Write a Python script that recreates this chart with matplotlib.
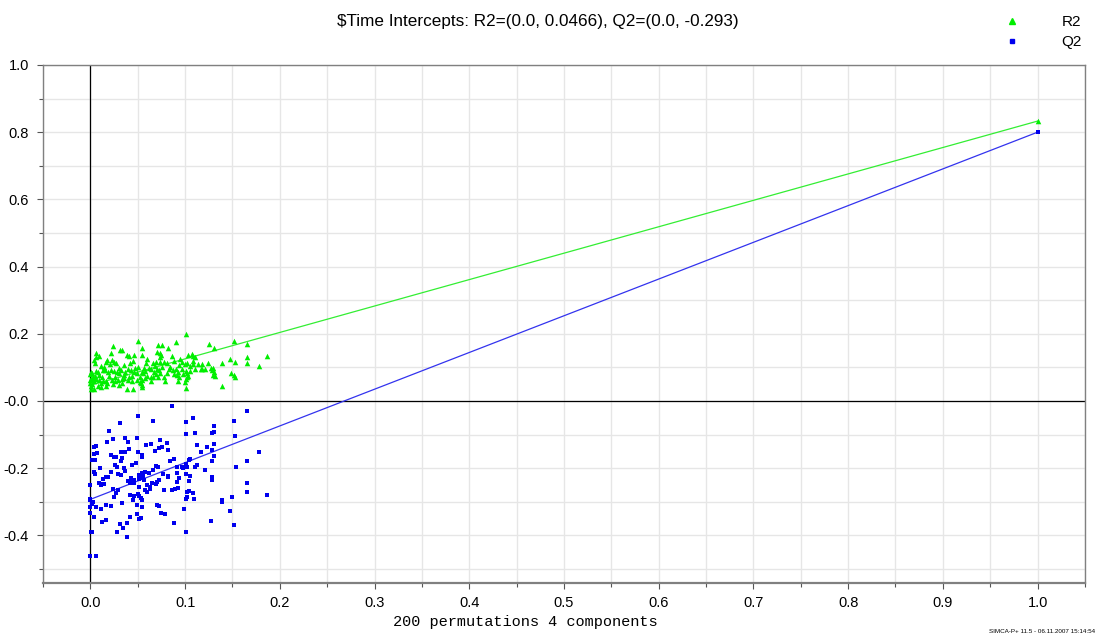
import matplotlib
matplotlib.use("Agg")
import matplotlib.pyplot as plt
from matplotlib.ticker import MultipleLocator, FixedLocator, FixedFormatter
from matplotlib.lines import Line2D

# permutation results: x = correlation of permuted y with original y
r2_x = [0.101, 0.050, 0.024, 0.071, 0.076, 0.090, 0.125, 0.152, 0.165, 0.022,
        0.031, 0.033, 0.054, 0.082, 0.039, 0.041, 0.046, 0.055, 0.070, 0.073,
        0.075, 0.086, 0.103, 0.107, 0.108, 0.110, 0.131, 0.147, 0.153, 0.165,
        0.165, 0.178, 0.187, 0.006, 0.006, 0.009, 0.004, 0.005, 0.016, 0.018,
        0.023, 0.025, 0.027, 0.011, 0.035, 0.042, 0.050, 0.059, 0.066, 0.069,
        0.073, 0.074, 0.078, 0.068, 0.081, 0.084, 0.097, 0.094, 0.100, 0.102,
        0.105, 0.108, 0.114, 0.118, 0.124, 0.139, 0.127, 0.129, 0.131, 0.128,
        0.129, 0.132, 0.001, 0.002, 0.000, 0.003, 0.006, 0.009, 0.013, 0.015,
        0.019, 0.022, 0.025, 0.028, 0.030, 0.032, 0.037, 0.040, 0.043, 0.046,
        0.049, 0.054, 0.056, 0.058, 0.062, 0.064, 0.067, 0.070, 0.072, 0.074,
        0.081, 0.087, 0.090, 0.091, 0.093, 0.098, 0.101, 0.102, 0.103, 0.117,
        0.121, 0.149, 0.152, 0.153, 0.000, 0.004, 0.006, 0.009, 0.011, 0.013,
        0.017, 0.023, 0.026, 0.029, 0.033, 0.035, 0.040, 0.041, 0.044, 0.049,
        0.052, 0.055, 0.058, 0.064, 0.066, 0.071, 0.079, 0.092, 0.100, 0.101,
        0.102, 0.139, 0.000, 0.001, 0.004, 0.008, 0.011, 0.016, 0.018, 0.024,
        0.030, 0.033, 0.039, 0.045, 0.053, 0.055, 0.054, 0.101, 0.001, 0.003,
        0.008, 0.012, 0.020, 0.026, 0.030, 0.035, 0.044, 0.047, 0.052, 0.057,
        0.060, 0.064, 0.069, 0.076, 0.078, 0.083, 0.088, 0.094, 0.097, 0.105,
        0.108, 0.110, 0.014, 0.021, 0.045, 0.060, 0.088, 0.095, 0.118, 0.001,
        0.002, 0.005, 1.000]
r2_y = [0.199, 0.177, 0.164, 0.167, 0.167, 0.174, 0.170, 0.179, 0.170, 0.144,
        0.152, 0.152, 0.157, 0.157, 0.137, 0.134, 0.136, 0.136, 0.145, 0.142,
        0.137, 0.134, 0.138, 0.140, 0.134, 0.132, 0.159, 0.124, 0.115, 0.130,
        0.114, 0.104, 0.134, 0.142, 0.130, 0.134, 0.122, 0.112, 0.115, 0.122,
        0.122, 0.117, 0.112, 0.105, 0.107, 0.112, 0.102, 0.114, 0.112, 0.115,
        0.117, 0.130, 0.115, 0.104, 0.112, 0.102, 0.115, 0.108, 0.109, 0.112,
        0.105, 0.110, 0.110, 0.096, 0.114, 0.112, 0.099, 0.097, 0.085, 0.092,
        0.078, 0.074, 0.087, 0.082, 0.079, 0.072, 0.090, 0.077, 0.092, 0.092,
        0.087, 0.092, 0.090, 0.085, 0.082, 0.092, 0.087, 0.094, 0.092, 0.085,
        0.082, 0.085, 0.082, 0.089, 0.099, 0.094, 0.087, 0.094, 0.092, 0.082,
        0.084, 0.092, 0.094, 0.077, 0.085, 0.080, 0.090, 0.082, 0.074, 0.094,
        0.096, 0.082, 0.077, 0.070, 0.062, 0.058, 0.064, 0.061, 0.053, 0.058,
        0.060, 0.062, 0.058, 0.061, 0.064, 0.069, 0.062, 0.072, 0.060, 0.061,
        0.055, 0.062, 0.067, 0.059, 0.070, 0.072, 0.058, 0.060, 0.055, 0.064,
        0.072, 0.043, 0.053, 0.043, 0.036, 0.045, 0.041, 0.043, 0.053, 0.050,
        0.048, 0.053, 0.035, 0.036, 0.053, 0.048, 0.040, 0.038, 0.035, 0.068,
        0.085, 0.070, 0.075, 0.072, 0.098, 0.078, 0.075, 0.097, 0.070, 0.098,
        0.075, 0.070, 0.080, 0.100, 0.072, 0.096, 0.080, 0.070, 0.095, 0.088,
        0.120, 0.095, 0.100, 0.110, 0.118, 0.125, 0.120, 0.124, 0.110, 0.065,
        0.050, 0.075, 0.833]

q2_x = [0.086, 0.165, 0.050, 0.066, 0.101, 0.108, 0.152, 0.031, 0.020, 0.101,
        0.110, 0.130, 0.131, 0.128, 0.153, 0.018, 0.024, 0.037, 0.040, 0.049,
        0.064, 0.059, 0.073, 0.081, 0.076, 0.072, 0.068, 0.006, 0.004, 0.113,
        0.123, 0.128, 0.131, 0.117, 0.178, 0.041, 0.032, 0.037, 0.050, 0.055,
        0.055, 0.022, 0.025, 0.027, 0.007, 0.004, 0.082, 0.033, 0.032, 0.088,
        0.105, 0.104, 0.128, 0.130, 0.002, 0.005, 0.154, 0.165, 0.026, 0.028,
        0.048, 0.069, 0.071, 0.091, 0.097, 0.101, 0.102, 0.110, 0.121, 0.004,
        0.005, 0.022, 0.029, 0.032, 0.037, 0.043, 0.046, 0.051, 0.054, 0.056,
        0.058, 0.062, 0.051, 0.054, 0.056, 0.077, 0.082, 0.082, 0.091, 0.098,
        0.101, 0.105, 0.113, 0.128, 0.128, 0.016, 0.013, 0.009, 0.011, 0.011,
        0.014, 0.000, 0.040, 0.042, 0.044, 0.046, 0.051, 0.057, 0.065, 0.069,
        0.072, 0.063, 0.063, 0.058, 0.060, 0.086, 0.089, 0.092, 0.091, 0.104,
        0.165, 0.024, 0.029, 0.025, 0.027, 0.042, 0.045, 0.046, 0.050, 0.051,
        0.053, 0.054, 0.049, 0.055, 0.070, 0.072, 0.102, 0.104, 0.108, 0.102,
        0.101, 0.109, 0.139, 0.139, 0.150, 0.165, 0.187, 0.000, 0.000, 0.003,
        0.002, 0.033, 0.017, 0.022, 0.000, 0.006, 0.011, 0.099, 0.147, 0.000,
        0.004, 0.042, 0.049, 0.051, 0.053, 0.075, 0.079, 0.088, 0.127, 0.152,
        0.016, 0.012, 0.031, 0.039, 0.034, 0.028, 0.001, 0.002, 0.101, 0.039,
        0.000, 0.006, 0.066, 0.084, 0.035, 0.019, 0.060, 0.078, 0.044, 0.070,
        0.094, 0.010, 1.000]
q2_y = [-0.014, -0.030, -0.045, -0.061, -0.063, -0.052, -0.061, -0.066, -0.090, -0.097,
        -0.095, -0.075, -0.092, -0.095, -0.105, -0.121, -0.114, -0.111, -0.121, -0.111,
        -0.127, -0.132, -0.117, -0.124, -0.138, -0.141, -0.148, -0.133, -0.137, -0.131,
        -0.137, -0.145, -0.129, -0.151, -0.151, -0.143, -0.151, -0.151, -0.153, -0.161,
        -0.166, -0.161, -0.168, -0.168, -0.155, -0.159, -0.147, -0.171, -0.179, -0.172,
        -0.174, -0.177, -0.178, -0.164, -0.177, -0.177, -0.196, -0.178, -0.190, -0.198,
        -0.185, -0.195, -0.196, -0.196, -0.198, -0.187, -0.196, -0.196, -0.206, -0.212,
        -0.217, -0.212, -0.216, -0.220, -0.210, -0.230, -0.235, -0.220, -0.215, -0.216,
        -0.212, -0.215, -0.233, -0.225, -0.230, -0.216, -0.222, -0.227, -0.214, -0.200,
        -0.216, -0.222, -0.192, -0.227, -0.234, -0.226, -0.232, -0.243, -0.246, -0.251,
        -0.248, -0.251, -0.238, -0.243, -0.238, -0.243, -0.256, -0.236, -0.243, -0.248,
        -0.235, -0.256, -0.263, -0.264, -0.271, -0.264, -0.261, -0.258, -0.240, -0.238,
        -0.245, -0.262, -0.265, -0.286, -0.274, -0.280, -0.296, -0.284, -0.278, -0.283,
        -0.290, -0.296, -0.310, -0.316, -0.311, -0.314, -0.272, -0.269, -0.273, -0.285,
        -0.293, -0.293, -0.296, -0.300, -0.285, -0.272, -0.280, -0.295, -0.292, -0.300,
        -0.306, -0.305, -0.311, -0.314, -0.316, -0.315, -0.321, -0.321, -0.328, -0.335,
        -0.345, -0.345, -0.337, -0.351, -0.347, -0.335, -0.338, -0.364, -0.357, -0.369,
        -0.355, -0.360, -0.367, -0.364, -0.377, -0.389, -0.391, -0.391, -0.391, -0.404,
        -0.461, -0.461, -0.205, -0.180, -0.200, -0.225, -0.250, -0.265, -0.190, -0.240,
        -0.230, -0.200, 0.800]

# intercepts of the regression lines through the permutation results
r2_int = 0.0466
q2_int = -0.293

fig = plt.figure(figsize=(10.97, 6.39), dpi=100)
ax = fig.add_axes([0.0392, 0.0876, 0.9498, 0.8107])

ax.set_xlim(-0.05, 1.05)
ax.set_ylim(-0.542, 1.0)

xt = [0.0, 0.1, 0.2, 0.3, 0.4, 0.5, 0.6, 0.7, 0.8, 0.9, 1.0]
ax.xaxis.set_major_locator(FixedLocator(xt))
ax.xaxis.set_major_formatter(FixedFormatter(['%.1f' % v for v in xt]))
ax.xaxis.set_minor_locator(MultipleLocator(0.05))
yt = [-0.4, -0.2, 0.0, 0.2, 0.4, 0.6, 0.8, 1.0]
ax.yaxis.set_major_locator(FixedLocator(yt))
ax.yaxis.set_major_formatter(FixedFormatter(['-0.4', '-0.2', '-0.0', '0.2', '0.4', '0.6', '0.8', '1.0']))
ax.yaxis.set_minor_locator(MultipleLocator(0.1))

ax.grid(which='both', color='#e6e6e6', linewidth=1.0, zorder=0)
ax.set_axisbelow(True)
ax.tick_params(which='major', direction='out', length=4, width=0.8, color='#555555',
               labelsize=10.5)
ax.tick_params(axis='x', which='major', pad=5)
ax.tick_params(axis='y', which='major', pad=6)
ax.tick_params(which='minor', direction='out', length=3, width=0.8, color='#555555')
for lbl in ax.get_xticklabels() + ax.get_yticklabels():
    lbl.set_family(['Liberation Sans', 'DejaVu Sans'])
for sp in ax.spines.values():
    sp.set_color('#808080')
    sp.set_linewidth(1.0)
ax.spines['bottom'].set_linewidth(1.6)

ax.axhline(0, color='black', linewidth=0.9, zorder=1)
ax.axvline(0, color='black', linewidth=0.9, zorder=1)

ax.plot([0, r2_x[-1]], [r2_int, r2_y[-1]], color='#33ee33', linewidth=0.9, zorder=2)
ax.plot([0, q2_x[-1]], [q2_int, q2_y[-1]], color='#3333ee', linewidth=0.9, zorder=2)
ax.scatter(r2_x, r2_y, marker='^', s=16, color='#00ee00', linewidths=0, zorder=3)
ax.scatter(q2_x, q2_y, marker='s', s=12, color='#0000ee', linewidths=0, zorder=4)

fig.text(0.4905, 0.9656, '$Time Intercepts: R2=(0.0, 0.0466), Q2=(0.0, -0.293)',
         ha='center', va='center', fontsize=12.3, family=['Liberation Sans', 'DejaVu Sans'])
fig.text(0.479, 0.027, '200 permutations 4 components', ha='center', va='center',
         fontsize=11, family=['Liberation Mono', 'DejaVu Sans Mono'])
fig.text(0.998, 0.008, 'SIMCA-P+ 11.5 - 06.11.2007 15:14:54', ha='right', va='bottom',
         fontsize=4.5, family=['Liberation Sans', 'DejaVu Sans'])

handles = [Line2D([], [], marker='^', linestyle='none', color='#00ee00', markersize=4),
           Line2D([], [], marker='s', linestyle='none', color='#0000ee', markersize=3.5)]
fig.legend(handles, ['R2', 'Q2'], loc='upper right', bbox_to_anchor=(0.9986, 0.998),
           frameon=False, handlelength=1, handletextpad=2.75, labelspacing=0.41,
           prop={'family': ['Liberation Sans', 'DejaVu Sans'], 'size': 11})

fig.savefig('out.png', dpi=100)
